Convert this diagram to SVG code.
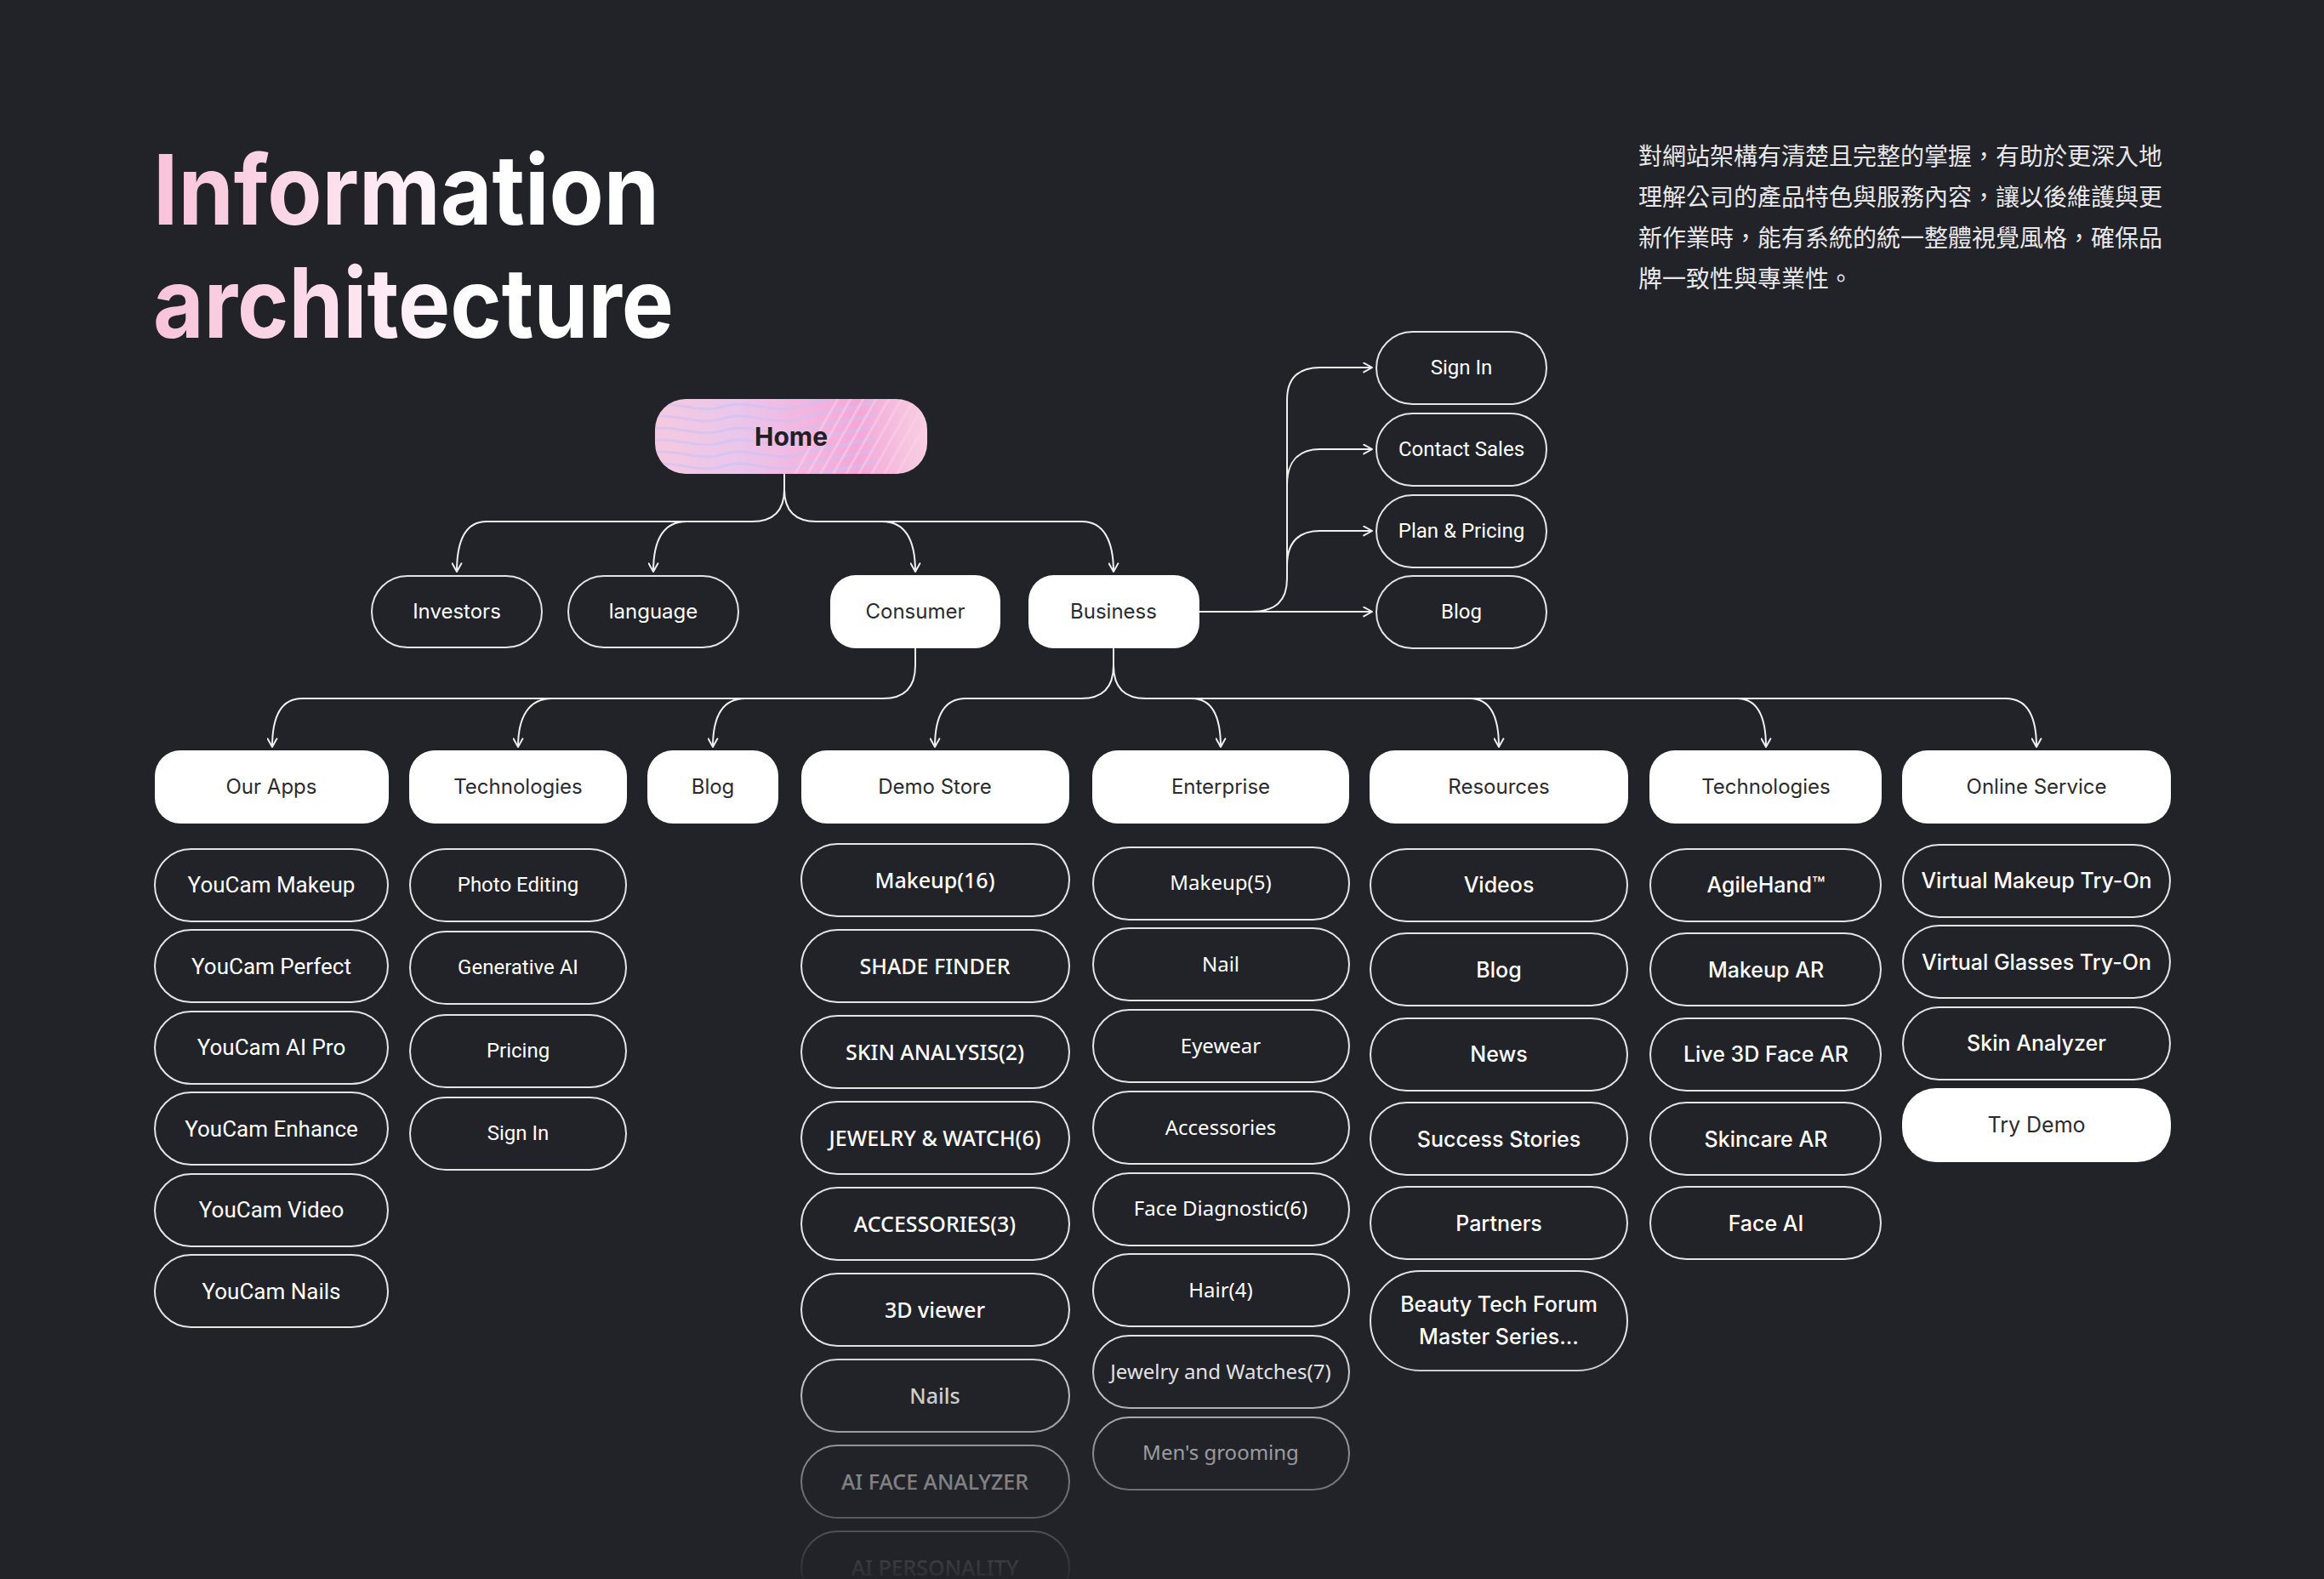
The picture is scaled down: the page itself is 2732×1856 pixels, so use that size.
<svg xmlns="http://www.w3.org/2000/svg" width="2732" height="1856" viewBox="0 0 2732 1856">
<defs>
<style>
.ol{fill:none;stroke:#e4e4e6;stroke-width:2}
.fl{fill:#ffffff}
.conn{fill:none;stroke:#f0f0f2;stroke-width:2}
text{text-anchor:middle}
.in24{font-family:Inter,"Noto Sans",sans-serif;font-size:24px;fill:#ffffff}
.ro26{font-family:Roboto,"Noto Sans",sans-serif;font-size:26px;fill:#ffffff}
.ro24{font-family:Roboto,"Noto Sans",sans-serif;font-size:24px;fill:#ffffff}
.ns25{font-family:"Noto Sans",sans-serif;font-size:25px;font-weight:500;fill:#ffffff}
.ns24{font-family:"Noto Sans",sans-serif;font-size:24px;fill:#ffffff}
.in25{font-family:Inter,"Noto Sans",sans-serif;font-size:25px;font-weight:500;fill:#ffffff}
text.dk{fill:#2a2b30}
.cjk{font-family:"Noto Sans CJK TC","Noto Sans CJK SC",sans-serif;font-size:28px;fill:#e8e8ea;text-anchor:start}
.title{font-family:Inter,"Liberation Sans",sans-serif;font-size:114px;font-weight:700;text-anchor:start}
</style>
<marker id="ah" viewBox="0 0 12 12" refX="10.5" refY="6" markerWidth="13" markerHeight="13" markerUnits="userSpaceOnUse" orient="auto">
<path d="M1.5,1 L10.5,6 L1.5,11" fill="none" stroke="#f0f0f2" stroke-width="1.8" stroke-linecap="round" stroke-linejoin="round"/>
</marker>
<linearGradient id="tg" gradientUnits="userSpaceOnUse" x1="181" y1="0" x2="560" y2="0">
<stop offset="0" stop-color="#f8c3da"/>
<stop offset="0.5" stop-color="#fbdbe9"/>
<stop offset="1" stop-color="#ffffff"/>
</linearGradient>
<linearGradient id="hg" x1="0" y1="0" x2="1" y2="0">
<stop offset="0" stop-color="#f6c9df"/>
<stop offset="0.3" stop-color="#eac6ec"/>
<stop offset="0.55" stop-color="#f4b6e0"/>
<stop offset="0.75" stop-color="#f3a8d9"/>
<stop offset="1" stop-color="#f8d0e2"/>
</linearGradient>
<clipPath id="hc"><rect x="770" y="469" width="320" height="88" rx="36"/></clipPath>
<linearGradient id="fade" gradientUnits="userSpaceOnUse" x1="0" y1="1575" x2="0" y2="1868">
<stop offset="0" stop-color="#222328" stop-opacity="0"/>
<stop offset="1" stop-color="#222328" stop-opacity="1"/>
</linearGradient>
</defs>
<rect x="0" y="0" width="2732" height="1856" fill="#222328"/>

<g id="title">
<text class="title" x="180" y="264" fill="url(#tg)" textLength="595" lengthAdjust="spacingAndGlyphs">Information</text>
<text class="title" x="180" y="397" fill="url(#tg)" textLength="612" lengthAdjust="spacingAndGlyphs">architecture</text>
</g>
<g id="description">
<text class="cjk" x="1926" y="194">對網站架構有清楚且完整的掌握，有助於更深入地</text>
<text class="cjk" x="1926" y="242">理解公司的產品特色與服務內容，讓以後維護與更</text>
<text class="cjk" x="1926" y="290">新作業時，能有系統的統一整體視覺風格，確保品</text>
<text class="cjk" x="1926" y="338">牌一致性與專業性。</text>
</g>

<g id="connectors" class="conn">
<path d="M922,557 V575 C922,600 909,613 884,613 H572 C547,613 537,635 537,672" marker-end="url(#ah)"/>
<path d="M807,613 C780,613 768,635 768,672" marker-end="url(#ah)"/>
<path d="M922,575 C922,600 935,613 960,613 H1272 C1297,613 1309,635 1309,672" marker-end="url(#ah)"/>
<path d="M1037,613 C1064,613 1076,635 1076,672" marker-end="url(#ah)"/>
<path d="M1410,719 H1613" marker-end="url(#ah)"/>
<path d="M1470,719 C1500,719 1513,706 1513,680 V470 C1513,445 1526,432 1552,432 H1613" marker-end="url(#ah)"/>
<path d="M1513,570 C1513,543 1526,528 1552,528 H1613" marker-end="url(#ah)"/>
<path d="M1513,665 C1513,638 1526,624 1552,624 H1613" marker-end="url(#ah)"/>
<path d="M1076,762 V782 C1076,808 1063,821 1038,821 H355 C330,821 320,842 320,878" marker-end="url(#ah)"/>
<path d="M649,821 C622,821 609,842 609,878" marker-end="url(#ah)"/>
<path d="M876,821 C849,821 838,842 838,878" marker-end="url(#ah)"/>
<path d="M1309,762 V782 C1309,808 1296,821 1271,821 H1135 C1110,821 1099,842 1099,878" marker-end="url(#ah)"/>
<path d="M1309,782 C1309,808 1322,821 1347,821 H2358 C2383,821 2394,842 2394,878" marker-end="url(#ah)"/>
<path d="M1401,821 C1425,821 1435,842 1435,878" marker-end="url(#ah)"/>
<path d="M1728,821 C1752,821 1762,842 1762,878" marker-end="url(#ah)"/>
<path d="M2042,821 C2066,821 2076,842 2076,878" marker-end="url(#ah)"/>
</g>

<g id="home">
<rect x="770" y="469" width="320" height="88" rx="36" fill="url(#hg)"/>
<g clip-path="url(#hc)" fill="none" stroke-width="3">
<g stroke="#c9c3f3" opacity="0.6">
<path d="M760,478 c30,-10 60,10 90,0 s60,10 90,0 s60,-10 90,-20"/>
<path d="M760,492 c30,-10 60,10 90,0 s60,10 90,0 s60,-10 90,-20"/>
<path d="M760,506 c30,-10 60,10 90,0 s60,10 90,0 s60,-10 90,-20"/>
<path d="M760,520 c30,-10 60,10 90,0 s60,10 90,0 s60,-10 90,-20"/>
<path d="M760,534 c30,-10 60,10 90,0 s60,10 90,0 s60,-10 90,-20"/>
<path d="M760,548 c30,-10 60,10 90,0 s60,10 90,0 s60,-10 90,-20"/>
<path d="M760,562 c30,-10 60,10 90,0 s60,10 90,0 s60,-10 90,-20"/>
</g>
<g stroke="#fbd0ea" opacity="0.55">
<path d="M960,565 L1020,460"/><path d="M975,565 L1035,460"/><path d="M990,565 L1050,460"/><path d="M1005,565 L1065,460"/><path d="M1020,565 L1080,460"/><path d="M1035,565 L1095,460"/><path d="M1050,565 L1110,460"/><path d="M945,565 L1005,460"/><path d="M930,565 L990,460"/>
</g>
</g>
<text x="930" y="513" dy="0.35em" style="font-family:Inter,'Noto Sans',sans-serif;font-size:30px;font-weight:700;fill:#1f2025">Home</text>
</g>

<g id="investors"><rect class="ol" x="437" y="677" width="200" height="84" rx="42"/><text class="in24" x="537" y="719" dy="0.35em">Investors</text></g>
<g id="language"><rect class="ol" x="668" y="677" width="200" height="84" rx="42"/><text class="in24" x="768" y="719" dy="0.35em">language</text></g>
<g id="consumer"><rect class="fl" x="976" y="676" width="200" height="86" rx="30"/><text class="in24 dk" x="1076" y="719" dy="0.35em">Consumer</text></g>
<g id="business"><rect class="fl" x="1209" y="676" width="201" height="86" rx="30"/><text class="in24 dk" x="1309" y="719" dy="0.35em">Business</text></g>

<g id="b-signin"><rect class="ol" x="1618" y="390" width="200" height="85" rx="42.5"/><text class="ro24" x="1718" y="432" dy="0.35em">Sign In</text></g>
<g id="b-contact"><rect class="ol" x="1618" y="486" width="200" height="85" rx="42.5"/><text class="ro24" x="1718" y="528" dy="0.35em">Contact Sales</text></g>
<g id="b-plan"><rect class="ol" x="1618" y="582" width="200" height="85" rx="42.5"/><text class="ro24" x="1718" y="624" dy="0.35em">Plan &amp; Pricing</text></g>
<g id="b-blog"><rect class="ol" x="1618" y="677" width="200" height="85" rx="42.5"/><text class="ro24" x="1718" y="719" dy="0.35em">Blog</text></g>

<g id="c-ourapps"><rect class="fl" x="182" y="882" width="275" height="86" rx="30"/><text class="in24 dk" x="319" y="925" dy="0.35em">Our Apps</text></g>
<g id="c-tech"><rect class="fl" x="481" y="882" width="256" height="86" rx="30"/><text class="in24 dk" x="609" y="925" dy="0.35em">Technologies</text></g>
<g id="c-blog"><rect class="fl" x="761" y="882" width="154" height="86" rx="30"/><text class="in24 dk" x="838" y="925" dy="0.35em">Blog</text></g>
<g id="c-demo"><rect class="fl" x="942" y="882" width="315" height="86" rx="30"/><text class="in24 dk" x="1099" y="925" dy="0.35em">Demo Store</text></g>
<g id="b-enterprise"><rect class="fl" x="1284" y="882" width="302" height="86" rx="30"/><text class="in24 dk" x="1435" y="925" dy="0.35em">Enterprise</text></g>
<g id="b-resources"><rect class="fl" x="1610" y="882" width="304" height="86" rx="30"/><text class="in24 dk" x="1762" y="925" dy="0.35em">Resources</text></g>
<g id="b-tech"><rect class="fl" x="1939" y="882" width="273" height="86" rx="30"/><text class="in24 dk" x="2076" y="925" dy="0.35em">Technologies</text></g>
<g id="b-online"><rect class="fl" x="2236" y="882" width="316" height="86" rx="30"/><text class="in24 dk" x="2394" y="925" dy="0.35em">Online Service</text></g>

<g id="ourapps-items">
<g id="youcam-makeup"><rect class="ol" x="182" y="998" width="274" height="85" rx="42.5"/><text class="ro26" x="319" y="1040" dy="0.35em">YouCam Makeup</text></g>
<g id="youcam-perfect"><rect class="ol" x="182" y="1093" width="274" height="85" rx="42.5"/><text class="ro26" x="319" y="1136" dy="0.35em">YouCam Perfect</text></g>
<g id="youcam-aipro"><rect class="ol" x="182" y="1189" width="274" height="85" rx="42.5"/><text class="ro26" x="319" y="1231" dy="0.35em">YouCam AI Pro</text></g>
<g id="youcam-enhance"><rect class="ol" x="182" y="1284" width="274" height="85" rx="42.5"/><text class="ro26" x="319" y="1327" dy="0.35em">YouCam Enhance</text></g>
<g id="youcam-video"><rect class="ol" x="182" y="1380" width="274" height="85" rx="42.5"/><text class="ro26" x="319" y="1422" dy="0.35em">YouCam Video</text></g>
<g id="youcam-nails"><rect class="ol" x="182" y="1475" width="274" height="85" rx="42.5"/><text class="ro26" x="319" y="1518" dy="0.35em">YouCam Nails</text></g>
</g>

<g id="ctech-items">
<g id="photo-editing"><rect class="ol" x="482" y="998" width="254" height="85" rx="42.5"/><text class="ro24" x="609" y="1040" dy="0.35em">Photo Editing</text></g>
<g id="generative-ai"><rect class="ol" x="482" y="1095" width="254" height="85" rx="42.5"/><text class="ro24" x="609" y="1137" dy="0.35em">Generative AI</text></g>
<g id="pricing"><rect class="ol" x="482" y="1193" width="254" height="85" rx="42.5"/><text class="ro24" x="609" y="1235" dy="0.35em">Pricing</text></g>
<g id="c-signin"><rect class="ol" x="482" y="1290" width="254" height="85" rx="42.5"/><text class="ro24" x="609" y="1332" dy="0.35em">Sign In</text></g>
</g>

<g id="demo-items">
<g id="d-makeup"><rect class="ol" x="942" y="992" width="315" height="85" rx="42.5"/><text class="ns25" x="1099" y="1035" dy="0.35em">Makeup(16)</text></g>
<g id="d-shade"><rect class="ol" x="942" y="1093" width="315" height="85" rx="42.5"/><text class="ns25" x="1099" y="1136" dy="0.35em">SHADE FINDER</text></g>
<g id="d-skin"><rect class="ol" x="942" y="1194" width="315" height="85" rx="42.5"/><text class="ns25" x="1099" y="1237" dy="0.35em">SKIN ANALYSIS(2)</text></g>
<g id="d-jewelry"><rect class="ol" x="942" y="1295" width="315" height="85" rx="42.5"/><text class="ns25" x="1099" y="1338" dy="0.35em">JEWELRY &amp; WATCH(6)</text></g>
<g id="d-acc"><rect class="ol" x="942" y="1396" width="315" height="85" rx="42.5"/><text class="ns25" x="1099" y="1439" dy="0.35em">ACCESSORIES(3)</text></g>
<g id="d-3d"><rect class="ol" x="942" y="1497" width="315" height="85" rx="42.5"/><text class="ns25" x="1099" y="1540" dy="0.35em">3D viewer</text></g>
<g id="d-nails"><rect class="ol" x="942" y="1598" width="315" height="85" rx="42.5"/><text class="ns25" x="1099" y="1641" dy="0.35em">Nails</text></g>
<g id="d-aiface"><rect class="ol" x="942" y="1699" width="315" height="85" rx="42.5"/><text class="ns25" x="1099" y="1742" dy="0.35em">AI FACE ANALYZER</text></g>
<g id="d-aipersonality"><rect class="ol" x="942" y="1800" width="315" height="85" rx="42.5"/><text class="ns25" x="1099" y="1843" dy="0.35em">AI PERSONALITY</text></g>
</g>

<g id="enterprise-items">
<g id="e-makeup"><rect class="ol" x="1285" y="996" width="301" height="85" rx="42.5"/><text class="ns24" x="1435" y="1038" dy="0.35em">Makeup(5)</text></g>
<g id="e-nail"><rect class="ol" x="1285" y="1091" width="301" height="85" rx="42.5"/><text class="ns24" x="1435" y="1134" dy="0.35em">Nail</text></g>
<g id="e-eyewear"><rect class="ol" x="1285" y="1187" width="301" height="85" rx="42.5"/><text class="ns24" x="1435" y="1230" dy="0.35em">Eyewear</text></g>
<g id="e-acc"><rect class="ol" x="1285" y="1283" width="301" height="85" rx="42.5"/><text class="ns24" x="1435" y="1326" dy="0.35em">Accessories</text></g>
<g id="e-face"><rect class="ol" x="1285" y="1379" width="301" height="85" rx="42.5"/><text class="ns24" x="1435" y="1421" dy="0.35em">Face Diagnostic(6)</text></g>
<g id="e-hair"><rect class="ol" x="1285" y="1474" width="301" height="85" rx="42.5"/><text class="ns24" x="1435" y="1517" dy="0.35em">Hair(4)</text></g>
<g id="e-jewelry"><rect class="ol" x="1285" y="1570" width="301" height="85" rx="42.5"/><text class="ns24" x="1435" y="1613" dy="0.35em">Jewelry and Watches(7)</text></g>
<g id="e-men"><rect class="ol" x="1285" y="1666" width="301" height="85" rx="42.5"/><text class="ns24" x="1435" y="1708" dy="0.35em">Men's grooming</text></g>
</g>

<g id="resources-items">
<g id="r-videos"><rect class="ol" x="1611" y="998" width="302" height="85" rx="42.5"/><text class="in25" x="1762" y="1040" dy="0.35em">Videos</text></g>
<g id="r-blog"><rect class="ol" x="1611" y="1097" width="302" height="85" rx="42.5"/><text class="in25" x="1762" y="1140" dy="0.35em">Blog</text></g>
<g id="r-news"><rect class="ol" x="1611" y="1197" width="302" height="85" rx="42.5"/><text class="in25" x="1762" y="1239" dy="0.35em">News</text></g>
<g id="r-success"><rect class="ol" x="1611" y="1296" width="302" height="85" rx="42.5"/><text class="in25" x="1762" y="1339" dy="0.35em">Success Stories</text></g>
<g id="r-partners"><rect class="ol" x="1611" y="1395" width="302" height="85" rx="42.5"/><text class="in25" x="1762" y="1438" dy="0.35em">Partners</text></g>
<g id="r-forum"><rect class="ol" x="1611" y="1494" width="302" height="117" rx="58.5"/><text class="in25" x="1762" y="1533" dy="0.35em">Beauty Tech Forum</text><text class="in25" x="1762" y="1571" dy="0.35em">Master Series...</text></g>
</g>

<g id="btech-items">
<g id="t-agile"><rect class="ol" x="1940" y="998" width="271" height="85" rx="42.5"/><text class="in25" x="2076" y="1040" dy="0.35em">AgileHand™</text></g>
<g id="t-makeupar"><rect class="ol" x="1940" y="1097" width="271" height="85" rx="42.5"/><text class="in25" x="2076" y="1140" dy="0.35em">Makeup AR</text></g>
<g id="t-live3d"><rect class="ol" x="1940" y="1197" width="271" height="85" rx="42.5"/><text class="in25" x="2076" y="1239" dy="0.35em">Live 3D Face AR</text></g>
<g id="t-skincare"><rect class="ol" x="1940" y="1296" width="271" height="85" rx="42.5"/><text class="in25" x="2076" y="1339" dy="0.35em">Skincare AR</text></g>
<g id="t-faceai"><rect class="ol" x="1940" y="1395" width="271" height="85" rx="42.5"/><text class="in25" x="2076" y="1438" dy="0.35em">Face AI</text></g>
</g>

<g id="online-items">
<g id="o-makeup"><rect class="ol" x="2237" y="993" width="314" height="85" rx="42.5"/><text class="in25" x="2394" y="1035" dy="0.35em">Virtual Makeup Try-On</text></g>
<g id="o-glasses"><rect class="ol" x="2237" y="1088" width="314" height="85" rx="42.5"/><text class="in25" x="2394" y="1131" dy="0.35em">Virtual Glasses Try-On</text></g>
<g id="o-skin"><rect class="ol" x="2237" y="1184" width="314" height="85" rx="42.5"/><text class="in25" x="2394" y="1226" dy="0.35em">Skin Analyzer</text></g>
<g id="o-trydemo"><rect class="fl" x="2236" y="1279" width="316" height="87" rx="40"/><text class="in25 dk" x="2394" y="1322" dy="0.35em" style="font-weight:400">Try Demo</text></g>
</g>

<rect x="0" y="1575" width="2732" height="281" fill="url(#fade)"/>
</svg>
